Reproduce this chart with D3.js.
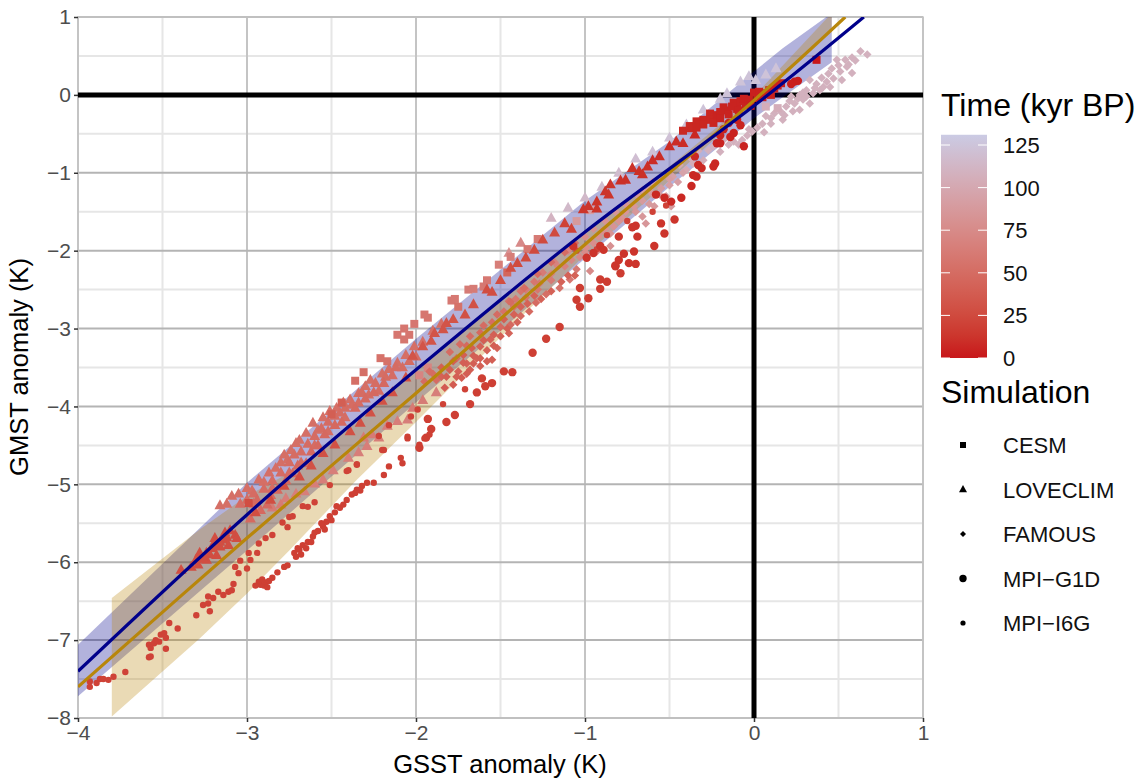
<!DOCTYPE html>
<html>
<head>
<meta charset="utf-8">
<script src="https://cdn.jsdelivr.net/npm/d3@7"></script>
<style>
  html, body { margin: 0; background: #fff; }
  text { font-family: "Liberation Sans", Arial, sans-serif; }
</style>
</head>
<body>
<svg id="chart" width="1146" height="783"></svg>
<script>
const xTicks = [-4, -3, -2, -1, 0, 1];
const yTicks = [-8, -7, -6, -5, -4, -3, -2, -1, 0, 1];
const xMinor = [-3.5, -2.5, -1.5, -0.5, 0.5];
const yMinor = [-7.5, -6.5, -5.5, -4.5, -3.5, -2.5, -1.5, -0.5, 0.5];
const timeTicks = [0, 25, 50, 75, 100, 125];

// fitted lines, [GSST, GMST]
const blueLine = [[-4, -7.4], [-3, -5.39], [-2, -3.53], [-1, -1.76], [0, -0.14], [0.65, 1]];
const goldLine = [[-4, -7.6], [-3, -5.69], [-2, -3.83], [-1, -1.92], [0, -0.07], [0.54, 1]];

// bands, [GSST, lower, upper]
const blueBand = [[-4, -7.72, -7.06], [-3, -5.85, -4.98], [-2, -3.95, -3.13], [-1, -2.1, -1.36],
  [-0.5, -1.18, -0.6], [0, -0.3, 0.3], [0.17, -0.03, 0.6], [0.46, 0.42, 1.05]];
const goldBand = [[-3.8, -7.98, -6.46], [-3.28, -6.98, -5.58], [-3, -6.4, -5.15], [-2.75, -5.85, -4.85],
  [-2.35, -4.94, -4.2], [-2, -4.2, -3.53], [-1.44, -2.98, -2.53], [-1.03, -2.12, -1.8],
  [-0.5, -1.1, -0.92], [0, -0.1, -0.02], [0.46, 0.85, 1.05]];

// points, [GSST, GMST, time]
const cesm = [
  [0.37, 0.45, 0],
  [-2.99, -5.24, 28], [-2.31, -3.56, 52], [-2.36, -3.67, 52], [-2.21, -3.38, 55], [-2.17, -3.42, 55],
  [-2.11, -3.08, 58], [-2.07, -3.0, 58], [-2.04, -3.08, 58], [-2.07, -3.14, 58], [-2.01, -2.94, 58],
  [-1.93, -2.86, 58], [-1.95, -2.82, 58], [-1.79, -2.64, 60], [-1.77, -2.62, 60], [-1.69, -2.5, 62], [-1.66, -2.49, 62],
  [-1.51, -2.18, 65], [-1.44, -2.08, 65], [-1.28, -1.85, 62], [-1.98, -3.6, 70], [-1.93, -3.5, 70],
  [-2.44, -3.95, 40], [-2.5, -4.1, 40], [-1.05, -1.62, 88], [-0.97, -1.48, 92], [0.07, -0.15, 105], [0.14, -0.17, 105],
  [-0.05, -0.12, 4], [-0.1, -0.18, 4], [-0.16, -0.2, 4], [-0.22, -0.26, 4], [0.02, -0.04, 3], [0.07, 0.02, 3], [0.12, 0.08, 3], [0.16, 0.15, 3],
  [-0.3, -0.32, 5], [-0.26, -0.24, 5], [-0.18, -0.16, 4], [-0.12, -0.1, 4], [-0.06, -0.05, 3], [0, 0.03, 3],
  [-0.42, -0.46, 6], [-0.38, -0.4, 6], [-0.34, -0.34, 5], [-0.34, -0.42, 5], [-0.3, -0.38, 5], [-0.26, -0.32, 5], [-0.24, -0.36, 5],
  [-0.2, -0.22, 4], [-0.2, -0.3, 4], [-0.15, -0.25, 4], [-0.13, -0.15, 4], [-0.09, -0.2, 4], [-0.08, -0.08, 4], [-0.03, -0.06, 3],
  [-0.02, -0.14, 3], [0.03, 0.04, 3], [0.05, -0.03, 3], [0.09, 0.06, 3], [0.1, 0, 3], [0.14, 0.12, 3],
  [-1.75, -2.72, 55], [-1.6, -2.46, 60], [-1.58, -2.38, 60], [-1.46, -2.28, 45], [-1.34, -1.98, 60]
];
const loveclim = [
  // low dark cluster
  [-3.39, -6.1, 28], [-3.33, -6.06, 28], [-3.28, -5.88, 28], [-3.29, -6.03, 28], [-3.24, -5.97, 28], [-3.21, -5.82, 28],
  [-3.18, -5.91, 28], [-3.16, -5.8, 28], [-3.19, -5.69, 28], [-3.14, -5.71, 28], [-3.11, -5.78, 28], [-3.1, -5.59, 28],
  [-3.07, -5.65, 28], [-3.06, -5.69, 28], [-3.13, -5.62, 28], [-3.22, -5.9, 28], [-3.26, -5.95, 28],
  [-3.2, -5.78, 28], [-3.16, -5.74, 28], [-3.12, -5.68, 28], [-3.24, -5.88, 28], [-3.3, -5.96, 28],
  // upper salmon cloud
  [-3.16, -5.27, 52], [-3.12, -5.25, 52], [-3.09, -5.15, 52], [-3.05, -5.12, 52], [-3.0, -5.05, 52], [-2.97, -5.08, 52],
  [-2.93, -4.94, 52], [-2.9, -4.97, 52], [-2.87, -4.85, 52], [-2.83, -4.79, 52], [-2.8, -4.72, 52], [-2.78, -4.62, 52],
  [-2.74, -4.56, 52], [-2.76, -4.68, 52], [-2.71, -4.47, 52], [-2.69, -4.43, 52], [-2.65, -4.34, 52], [-2.61, -4.21, 52],
  [-2.58, -4.3, 52], [-2.55, -4.14, 52], [-2.51, -4.06, 52], [-2.47, -4.02, 52], [-2.43, -3.95, 52], [-2.39, -3.91, 52],
  [-2.34, -3.83, 52], [-2.3, -3.74, 52], [-2.27, -3.66, 52], [-2.2, -3.58, 52], [-2.16, -3.52, 52], [-2.11, -3.44, 52],
  [-2.06, -3.34, 52], [-2.01, -3.23, 52], [-1.96, -3.17, 52], [-1.9, -3.03, 52], [-1.85, -2.94, 52],
  [-3.04, -5.25, 50], [-3.0, -5.2, 50], [-2.96, -5.12, 50], [-2.96, -5.25, 50], [-2.9, -5.06, 50], [-2.85, -4.95, 50], [-2.85, -5.05, 50],
  [-2.8, -4.85, 50], [-2.75, -4.72, 50], [-2.75, -4.85, 50], [-2.72, -4.62, 50], [-2.68, -4.58, 50], [-2.68, -4.72, 50], [-2.64, -4.48, 50],
  [-2.6, -4.38, 50], [-2.6, -4.5, 50], [-2.56, -4.28, 50], [-2.52, -4.2, 50], [-2.52, -4.32, 50], [-2.48, -4.12, 50], [-2.45, -4.08, 50],
  [-2.42, -4.14, 50], [-2.42, -4.02, 50], [-2.38, -3.98, 50], [-2.34, -3.95, 50], [-2.32, -3.82, 50], [-2.28, -3.85, 50], [-2.24, -3.7, 50],
  [-2.22, -3.8, 50], [-2.18, -3.62, 50], [-2.14, -3.6, 50], [-2.12, -3.5, 50], [-2.08, -3.5, 50], [-2.04, -3.42, 50], [-2.0, -3.36, 50],
  [-2.92, -5.33, 48], [-2.88, -5.26, 48], [-2.82, -5.07, 48], [-2.98, -5.44, 48], [-2.94, -5.2, 48], [-2.86, -5.14, 48],
  [-2.77, -4.95, 48], [-2.73, -4.86, 48], [-2.7, -4.76, 48], [-2.65, -4.73, 48], [-2.62, -4.58, 48], [-2.58, -4.5, 48],
  [-2.54, -4.36, 48], [-2.48, -4.24, 48], [-2.44, -4.2, 48], [-2.36, -4.02, 48], [-2.3, -3.9, 48], [-2.25, -3.82, 48], [-2.19, -3.7, 48],
  // pale lower row
  [-2.77, -5.18, 65], [-2.71, -5.12, 65], [-2.66, -5.09, 65], [-2.6, -4.99, 65], [-2.55, -4.94, 65], [-2.49, -4.82, 65],
  [-2.4, -4.66, 65], [-2.34, -4.59, 65], [-2.29, -4.51, 65], [-2.22, -4.4, 65], [-2.17, -4.25, 65], [-2.11, -4.19, 65],
  [-2.05, -4.17, 65], [-1.88, -3.82, 65], [-2.85, -5.3, 62], [-2.8, -5.26, 62], [-2.31, -4.4, 62], [-2.26, -4.36, 62], [-2.02, -4.02, 62], [-1.96, -3.92, 62],
  // dark triangles along the blue line
  [-2.95, -5.36, 28], [-2.86, -5.2, 28], [-2.78, -5.02, 28], [-2.69, -4.9, 28], [-2.62, -4.76, 30], [-2.55, -4.6, 30], [-2.48, -4.49, 30],
  [-2.39, -4.32, 30], [-2.33, -4.21, 30], [-2.27, -4.08, 30], [-2.2, -3.93, 30], [-2.14, -3.82, 30], [-2.06, -3.63, 30],
  [-2.02, -3.35, 32], [-1.96, -3.23, 32], [-1.91, -3.16, 32], [-1.89, -3.06, 32], [-1.84, -3.01, 32], [-1.82, -2.93, 32],
  [-1.78, -2.88, 32], [-1.71, -2.82, 30], [-1.66, -2.69, 30], [-1.55, -2.53, 28], [-1.58, -2.5, 28], [-1.5, -2.38, 28],
  [-1.44, -2.22, 28], [-1.4, -2.16, 25], [-1.35, -2.09, 25], [-1.3, -1.99, 25], [-1.25, -1.86, 25], [-1.18, -1.77, 25],
  [-1.12, -1.65, 20], [-1.08, -1.72, 20], [-1.01, -1.47, 12], [-0.98, -1.43, 12], [-0.93, -1.37, 12], [-0.93, -1.46, 12],
  [-0.88, -1.24, 12], [-0.86, -1.28, 12], [-0.85, -1.15, 12], [-0.76, -1.09, 10], [-0.72, -0.94, 10], [-0.68, -0.98, 10],
  [-0.63, -0.92, 10], [-0.56, -0.79, 8], [-0.5, -0.66, 8], [-0.46, -0.6, 8], [-0.37, -0.43, 6], [-0.35, -0.51, 6], [-0.42, -0.62, 8],
  [-0.6, -0.84, 8], [-0.66, -1.02, 10], [-0.79, -1.1, 10],
  // pale upper ones
  [-1.45, -2.03, 80], [-1.38, -1.9, 75], [-1.2, -1.58, 110], [-1.1, -1.45, 115], [-1.0, -1.32, 115], [-0.9, -1.18, 118], [-0.8, -1.0, 118],
  [-0.7, -0.82, 120], [-0.6, -0.73, 122], [-0.5, -0.55, 122], [-0.4, -0.38, 122], [-0.3, -0.19, 124], [-0.2, -0.05, 124], [-0.16, 0.02, 124],
  [-0.08, 0.17, 124], [-0.03, 0.24, 124], [0.01, 0.19, 124], [0.07, 0.26, 124], [0.13, 0.34, 124]
];
const famous = [
  [0.63, 0.56, 108], [0.67, 0.52, 108], [0.58, 0.48, 108], [0.54, 0.45, 108], [0.56, 0.39, 108], [0.49, 0.45, 108], [0.46, 0.34, 108],
  [0.51, 0.3, 108], [0.58, 0.28, 108], [0.47, 0.21, 108], [0.52, 0.19, 108], [0.43, 0.17, 108], [0.45, 0.1, 108], [0.39, 0.06, 108],
  [0.33, 0.19, 108], [0.35, 0.02, 108], [0.31, -0.02, 108], [0.27, 0, 108], [0.22, -0.02, 108], [0.33, -0.11, 108], [0.29, -0.06, 108],
  [0.24, -0.11, 108], [0.19, -0.15, 108], [0.27, -0.19, 108], [0.23, -0.21, 108], [0.18, -0.26, 108], [0.17, -0.32, 108],
  [0.1, -0.3, 108], [0.05, -0.37, 108], [0.1, -0.37, 108], [0.06, -0.48, 108], [-0.01, -0.47, 108], [-0.04, -0.52, 108], [-0.07, -0.58, 108],
  [-0.09, -0.64, 108], [-0.15, -0.64, 108], [-0.2, -0.73, 108], [-0.27, -0.71, 108], [-0.3, -0.84, 105], [-0.36, -0.88, 105], [-0.4, -0.96, 100],
  [0.6, 0.44, 108], [0.55, 0.36, 108], [0.5, 0.38, 108], [0.44, 0.27, 108], [0.4, 0.22, 108], [0.37, 0.14, 108], [0.41, 0.1, 108], [0.36, 0.09, 108],
  [0.31, 0.06, 108], [0.26, -0.05, 108], [0.21, -0.08, 108], [0.29, 0.03, 108], [0.16, -0.22, 108], [0.12, -0.24, 108], [0.07, -0.27, 108],
  [0.02, -0.42, 108], [-0.03, -0.44, 108], [-0.12, -0.6, 108], [-0.18, -0.58, 108], [-0.24, -0.66, 108], [-0.33, -0.72, 105], [-0.37, -0.82, 105],
  [-0.44, -0.9, 100], [-0.5, -0.98, 98], [-0.55, -1.06, 96], [-0.6, -1.12, 95], [-0.66, -1.22, 92],
  [-0.48, -1.05, 95], [-0.42, -1.0, 95], [-0.5, -1.16, 92], [-0.55, -1.2, 90], [-0.6, -1.28, 88], [-0.52, -1.3, 90], [-0.49, -1.43, 88],
  [-0.59, -1.43, 88], [-0.66, -1.36, 88], [-0.71, -1.43, 85], [-0.66, -1.56, 85], [-0.64, -1.65, 85], [-0.76, -1.5, 85], [-0.83, -1.69, 82],
  [-0.8, -1.62, 82], [-0.72, -1.7, 82], [-0.88, -1.72, 82], [-0.92, -1.82, 80], [-0.85, -1.94, 80], [-0.97, -2.26, 75], [-0.93, -2.01, 75],
  [-0.99, -1.96, 78], [-1.03, -2.08, 75], [-1.05, -2.24, 60], [-1.09, -2.37, 60], [-1.15, -2.48, 55], [-1.2, -2.3, 70], [-1.23, -2.56, 52],
  [-0.45, -1.12, 92], [-0.5, -1.08, 92], [-0.56, -1.28, 90], [-0.62, -1.22, 90], [-0.62, -1.4, 88], [-0.68, -1.3, 88], [-0.7, -1.5, 85], [-0.75, -1.42, 85],
  [-0.78, -1.58, 84], [-0.82, -1.5, 84], [-0.85, -1.78, 82], [-0.88, -1.62, 82], [-0.9, -1.75, 80], [-0.95, -1.72, 80], [-0.95, -1.9, 78], [-1.0, -1.82, 78],
  [-1.0, -2.02, 76], [-1.05, -1.98, 75], [-1.08, -2.12, 72], [-1.1, -2.0, 72], [-1.12, -2.2, 68], [-1.18, -2.15, 68], [-1.2, -2.38, 62], [-1.25, -2.28, 62],
  [-1.28, -2.5, 58], [-1.3, -2.4, 58], [-1.35, -2.6, 56], [-1.38, -2.52, 56], [-1.42, -2.72, 54], [-1.45, -2.65, 54],
  [-1.29, -2.67, 50], [-1.33, -2.78, 48], [-1.38, -2.84, 48], [-1.44, -2.95, 48], [-1.16, -2.2, 70], [-1.27, -2.42, 60], [-1.35, -2.5, 62],
  [-1.41, -2.62, 58], [-1.48, -2.78, 55], [-1.52, -3.25, 42], [-1.56, -3.14, 42], [-1.62, -3.23, 42], [-1.55, -3.4, 40], [-1.66, -3.35, 40],
  [-1.62, -3.48, 40], [-1.68, -3.53, 40], [-1.72, -3.44, 40], [-1.73, -3.63, 38], [-1.78, -3.72, 38], [-1.8, -3.53, 40], [-1.83, -3.76, 38],
  [-1.76, -3.38, 48], [-1.7, -3.22, 48], [-1.62, -3.05, 48], [-1.55, -2.92, 50], [-1.5, -2.98, 48], [-1.45, -3.06, 44], [-1.4, -2.92, 44],
  [-1.85, -3.62, 42], [-1.9, -3.58, 50], [-1.58, -3.28, 42], [-1.64, -3.38, 42], [-1.7, -3.45, 42], [-1.75, -3.55, 42],
  [-1.85, -3.5, 40], [-1.82, -3.62, 40], [-1.78, -3.42, 40], [-1.76, -3.62, 40], [-1.72, -3.34, 40], [-1.7, -3.58, 40], [-1.67, -3.25, 40], [-1.66, -3.45, 40],
  [-1.62, -3.38, 40], [-1.6, -3.15, 40], [-1.58, -3.42, 40], [-1.54, -3.08, 40], [-1.54, -3.22, 40], [-1.5, -3.1, 40], [-1.48, -2.88, 40], [-1.46, -3.0, 40],
  [-1.42, -2.82, 42], [-1.38, -2.72, 42], [-1.34, -2.68, 42], [-1.3, -2.58, 42], [-1.26, -2.62, 42], [-1.2, -2.52, 42], [-1.14, -2.4, 42], [-1.1, -2.32, 42], [-1.06, -2.32, 42],
  [-1.95, -3.68, 50], [-1.92, -3.55, 50], [-1.88, -3.66, 50], [-1.8, -3.3, 50], [-1.74, -3.2, 50], [-1.68, -3.1, 50], [-1.6, -2.96, 50], [-1.52, -2.82, 50],
  [-1.44, -2.66, 50], [-1.36, -2.48, 50], [-1.28, -2.3, 50], [-1.2, -2.15, 50], [-1.12, -2.02, 50], [-1.06, -1.9, 50]
];
const mpiG1d = [
  [-1.98, -4.53, 18], [-1.94, -4.4, 18], [-1.91, -4.29, 18], [-1.93, -4.16, 18], [-1.82, -4.2, 18], [-1.77, -4.11, 18], [-1.68, -3.97, 18],
  [-1.64, -3.82, 18], [-1.59, -3.74, 18], [-1.61, -3.64, 18], [-1.55, -3.7, 18], [-1.48, -3.55, 18], [-1.43, -3.56, 18], [-1.31, -3.31, 18], [-1.23, -3.13, 18], [-1.15, -2.98, 18],
  [-1.05, -2.63, 16], [-1.03, -2.72, 16], [-1.03, -2.48, 16], [-0.98, -2.61, 16], [-0.91, -2.37, 16], [-0.87, -2.4, 16], [-0.91, -2.49, 16], [-0.82, -2.2, 16], [-0.79, -2.29, 16],
  [-0.8, -2.12, 12], [-0.82, -2.19, 12], [-0.77, -2.04, 12], [-0.74, -2.16, 12], [-0.7, -2.17, 12], [-0.71, -2.01, 12], [-0.59, -1.94, 12], [-0.53, -1.78, 12], [-0.55, -1.65, 12],
  [-0.47, -1.6, 12], [-0.8, -1.82, 12], [-0.69, -1.82, 12], [-0.7, -1.68, 12], [-0.72, -1.7, 12], [-0.91, -1.94, 12], [-0.89, -1.99, 12], [-0.95, -2.03, 12], [-0.99, -2.09, 12], [-1.07, -1.94, 12],
  [-0.49, -1.37, 6], [-0.53, -1.32, 6], [-0.58, -1.28, 6], [-0.43, -1.32, 6], [-0.37, -1.17, 6], [-0.36, -1.03, 6], [-0.34, -1.05, 6], [-0.31, -0.94, 6], [-0.23, -0.88, 6], [-0.24, -0.92, 6],
  [-0.33, -0.9, 6], [-0.35, -0.79, 6], [-0.06, -0.66, 4], [-0.2, -0.62, 4], [-0.22, -0.62, 4], [-0.14, -0.54, 4], [-0.2, -0.52, 4], [-0.12, -0.49, 4], [-0.08, -0.39, 4], [-0.15, -0.36, 4], [-0.1, -0.32, 4], [-0.18, -0.44, 4],
  [0.24, 0.17, 2], [0.22, 0.14, 2], [0.26, 0.18, 2]
];
const mpiI6g = [
  [-3.93, -7.6, 20], [-3.93, -7.53, 20], [-3.89, -7.55, 20], [-3.87, -7.5, 20], [-3.85, -7.5, 20], [-3.82, -7.51, 20], [-3.79, -7.47, 20], [-3.72, -7.41, 20],
  [-3.58, -7.22, 20], [-3.57, -7.21, 20], [-3.58, -7.06, 20], [-3.55, -7.04, 20], [-3.57, -7.1, 20], [-3.52, -7.02, 20], [-3.54, -7.0, 20], [-3.51, -6.93, 20], [-3.49, -6.91, 20], [-3.48, -6.97, 20], [-3.46, -6.78, 20], [-3.41, -6.85, 20], [-3.48, -7.11, 20],
  [-3.3, -6.68, 20], [-3.26, -6.55, 20], [-3.23, -6.53, 20], [-3.22, -6.63, 20], [-3.23, -6.44, 20], [-3.2, -6.46, 20], [-3.17, -6.38, 20], [-3.14, -6.42, 20], [-3.11, -6.38, 20], [-3.09, -6.36, 20], [-3.08, -6.28, 20],
  [-3.07, -6.06, 20], [-3.04, -5.98, 20], [-3.05, -6.14, 20], [-3.0, -6.08, 20], [-2.98, -5.97, 20], [-2.99, -5.88, 20], [-2.94, -5.88, 20], [-2.93, -5.76, 20], [-2.89, -5.69, 20], [-2.85, -5.65, 20],
  [-2.79, -5.49, 20], [-2.75, -5.42, 20], [-2.73, -5.41, 20], [-2.76, -5.55, 20], [-2.67, -5.28, 20], [-2.64, -5.29, 20], [-2.6, -5.23, 20], [-2.51, -5.01, 20],
  [-2.41, -4.83, 20], [-2.35, -4.75, 20], [-2.19, -4.56, 20], [-2.22, -4.38, 20], [-2.16, -4.24, 20], [-2.03, -4.13, 20], [-1.99, -4.04, 20], [-1.93, -4.17, 20],
  [-2.2, -4.56, 20], [-2.05, -4.39, 20], [-1.84, -3.97, 20], [-1.71, -3.78, 20], [-2.4, -4.82, 20], [-2.35, -4.74, 20], [-1.05, -2.0, 20], [-0.93, -1.98, 20], [-0.87, -1.8, 20], [-0.75, -1.62, 20], [-0.6, -1.5, 20], [-0.52, -1.42, 20],
  // lower branch
  [-2.92, -6.29, 18], [-2.93, -6.25, 18], [-2.9, -6.3, 18], [-2.89, -6.26, 18], [-2.87, -6.24, 18], [-2.85, -6.2, 18], [-2.82, -6.13, 18], [-2.78, -6.06, 18], [-2.76, -6.04, 18],
  [-2.72, -5.88, 18], [-2.71, -5.93, 18], [-2.69, -5.84, 18], [-2.67, -5.78, 18], [-2.64, -5.74, 18], [-2.61, -5.67, 18], [-2.58, -5.6, 18], [-2.55, -5.54, 18], [-2.53, -5.48, 18],
  [-2.51, -5.41, 18], [-2.48, -5.36, 18], [-2.45, -5.3, 18], [-2.41, -5.2, 18], [-2.38, -5.13, 18], [-2.35, -5.07, 18], [-2.32, -5.02, 18], [-2.29, -4.98, 18], [-2.25, -4.98, 18],
  [-2.19, -4.88, 18], [-2.16, -4.77, 18], [-2.09, -4.66, 18], [-2.08, -4.73, 18], [-2.05, -4.41, 18], [-1.98, -4.49, 18], [-1.95, -4.41, 18], [-1.92, -4.36, 18],
  [-2.95, -6.3, 18], [-2.91, -6.22, 18], [-2.88, -6.32, 18], [-2.7, -5.82, 18], [-2.68, -5.9, 18], [-2.65, -5.82, 18], [-2.62, -5.74, 18], [-2.6, -5.62, 18], [-2.56, -5.5, 18],
  [-2.54, -5.58, 18], [-2.5, -5.46, 18], [-2.47, -5.28, 18], [-2.43, -5.26, 18], [-2.36, -5.11, 18], [-2.33, -5.08, 18]
];

const x = d3.scaleLinear().domain([-4, 1]).range([78, 923]);
const y = d3.scaleLinear().domain([-8, 1]).range([718, 17]);
const colour = d3.scaleLinear().domain([0, 131]).range(['#c8171a', '#cbcbe4']).interpolate(d3.interpolateLab);

const svg = d3.select('#chart');
svg.append('defs').append('clipPath').attr('id', 'panel')
  .append('rect').attr('x', 78).attr('y', 17).attr('width', 845).attr('height', 701);

// Grid
const grid = svg.append('g');
grid.selectAll('.vminor').data(xMinor).join('line')
  .attr('x1', x).attr('x2', x).attr('y1', 17).attr('y2', 718)
  .attr('stroke', '#e6e6e6').attr('stroke-width', 2);
grid.selectAll('.hminor').data(yMinor).join('line')
  .attr('x1', 78).attr('x2', 923).attr('y1', y).attr('y2', y)
  .attr('stroke', '#e6e6e6').attr('stroke-width', 2);
grid.selectAll('.vmajor').data(xTicks).join('line')
  .attr('x1', x).attr('x2', x).attr('y1', 17).attr('y2', 718)
  .attr('stroke', '#c4c4c4').attr('stroke-width', 2);
grid.selectAll('.hmajor').data(yTicks).join('line')
  .attr('x1', 78).attr('x2', 923).attr('y1', y).attr('y2', y)
  .attr('stroke', '#b4b4b4').attr('stroke-width', 2);
grid.append('rect').attr('x', 78).attr('y', 17).attr('width', 845).attr('height', 701)
  .attr('fill', 'none').attr('stroke', '#c4c4c4').attr('stroke-width', 1.5);

// Zero lines
grid.append('line').attr('x1', 78).attr('x2', 923).attr('y1', y(0)).attr('y2', y(0))
  .attr('stroke', '#000').attr('stroke-width', 5);
grid.append('line').attr('x1', x(0)).attr('x2', x(0)).attr('y1', 17).attr('y2', 718)
  .attr('stroke', '#000').attr('stroke-width', 5);

const plot = svg.append('g').attr('clip-path', 'url(#panel)');

// Bands
const area = d3.area().x((d) => x(d[0])).y0((d) => y(d[1])).y1((d) => y(d[2]));
plot.append('path').attr('d', area(blueBand)).attr('fill', '#00008b').attr('opacity', 0.3);
plot.append('path').attr('d', area(goldBand)).attr('fill', '#b8860b').attr('opacity', 0.3);

// Points
const square = (s) => d3.symbol().type(d3.symbolSquare).size(s * s)();
const triangle = (w) => `M0,${-w * 0.55}L${w / 2},${w * 0.35}L${-w / 2},${w * 0.35}Z`;
const diamond = (w) => `M0,${-w / 2}L${w / 2},0L0,${w / 2}L${-w / 2},0Z`;
const circle = (r) => d3.symbol().type(d3.symbolCircle).size(Math.PI * r * r)();

const sims = [
  { name: 'CESM', rows: cesm, mark: square(8), key: square(6) },
  { name: 'LOVECLIM', rows: loveclim, mark: triangle(11), key: triangle(8) },
  { name: 'FAMOUS', rows: famous, mark: diamond(8.5), key: diamond(6) },
  { name: 'MPI−G1D', rows: mpiG1d, mark: circle(4.2), key: circle(3.7) },
  { name: 'MPI−I6G', rows: mpiI6g, mark: circle(3.2), key: circle(2.6) }
];

const all = sims.flatMap((s) => s.rows.map((r) => ({ x: r[0], y: r[1], t: r[2], mark: s.mark })));
all.sort((a, b) => b.t - a.t);
plot.selectAll('.pt').data(all).join('path')
  .attr('transform', (d) => `translate(${x(d.x)},${y(d.y)})`)
  .attr('d', (d) => d.mark)
  .attr('fill', (d) => colour(d.t));

// Fit lines
const line = d3.line().x((d) => x(d[0])).y((d) => y(d[1])).curve(d3.curveCatmullRom);
plot.append('path').attr('d', line(goldLine)).attr('fill', 'none').attr('stroke', '#b8860b').attr('stroke-width', 3.2);
plot.append('path').attr('d', line(blueLine)).attr('fill', 'none').attr('stroke', '#00008b').attr('stroke-width', 3.2);

// Axes
const xAxis = svg.append('g').attr('transform', 'translate(0,718)')
  .call(d3.axisBottom(x).tickValues(xTicks).tickSize(4).tickPadding(3).tickFormat(d3.format('d')));
const yAxis = svg.append('g').attr('transform', 'translate(78,0)')
  .call(d3.axisLeft(y).tickValues(yTicks).tickSize(4).tickPadding(3).tickFormat(d3.format('d')));
[xAxis, yAxis].forEach((a) => {
  a.select('.domain').remove();
  a.selectAll('line').attr('stroke', '#333').attr('stroke-width', 1.5);
  a.selectAll('text').attr('font-size', 21).attr('fill', '#4d4d4d')
    .style('font-family', '"Liberation Sans", Arial, sans-serif');
});

svg.append('text').attr('x', 500).attr('y', 773).attr('text-anchor', 'middle')
  .attr('font-size', 25.5).text('GSST anomaly (K)');
svg.append('text').attr('transform', 'translate(28,367) rotate(-90)').attr('text-anchor', 'middle')
  .attr('font-size', 25.5).text('GMST anomaly (K)');

// Colour bar
svg.append('text').attr('x', 941).attr('y', 116).attr('font-size', 32).text('Time (kyr BP)');
const grad = svg.select('defs').append('linearGradient').attr('id', 'timeGrad')
  .attr('x1', 0).attr('x2', 0).attr('y1', 1).attr('y2', 0);
d3.range(0, 1.001, 0.1).forEach((f) => {
  grad.append('stop').attr('offset', f).attr('stop-color', colour(f * 131));
});
const tScale = d3.scaleLinear().domain([0, 125]).range([358, 145]);
svg.append('rect').attr('x', 941).attr('y', tScale(131)).attr('width', 46)
  .attr('height', 358 - tScale(131)).attr('fill', 'url(#timeGrad)');
const timeKey = svg.append('g').selectAll('g').data(timeTicks).join('g')
  .attr('transform', (d) => `translate(0,${tScale(d)})`);
timeKey.append('line').attr('x1', 941).attr('x2', 950).attr('stroke', '#fff').attr('stroke-width', 1);
timeKey.append('line').attr('x1', 978).attr('x2', 987).attr('stroke', '#fff').attr('stroke-width', 1);
timeKey.append('text').attr('x', 1003).attr('y', 8).attr('font-size', 22).attr('fill', '#111').text((d) => d);

// Shape legend
svg.append('text').attr('x', 941).attr('y', 403).attr('font-size', 32).text('Simulation');
const keyY = d3.scalePoint().domain(sims.map((s) => s.name)).range([445, 623]);
const shapeKey = svg.append('g').selectAll('g').data(sims).join('g')
  .attr('transform', (d) => `translate(0,${keyY(d.name)})`);
shapeKey.append('path').attr('transform', 'translate(963,0)').attr('d', (d) => d.key).attr('fill', '#000');
shapeKey.append('text').attr('x', 1003).attr('y', 8).attr('font-size', 22).attr('fill', '#111').text((d) => d.name);
</script>
</body>
</html>
